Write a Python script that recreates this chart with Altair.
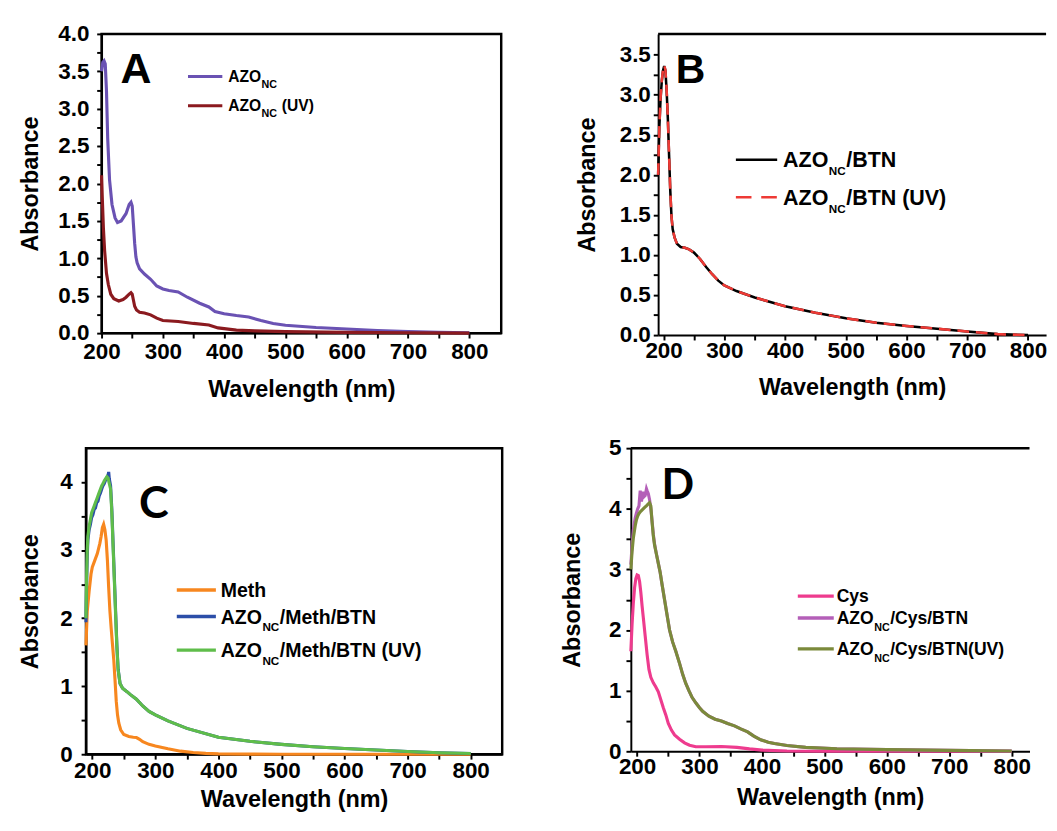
import altair as alt
import pandas as pd

FONT = "Liberation Sans"
FONT_CD = "Lato"

# ---------------- Panel A ----------------
A_WL = [200, 202, 204, 206, 208, 210, 213, 217, 222, 226, 232, 240, 245, 248, 250, 252, 254, 256, 258, 262,
        270, 280, 290, 300, 310, 325, 340, 360, 375, 385, 400, 420, 440, 460, 480, 500, 550, 600, 650, 700, 750, 800]
A_AZO = [3.50, 3.62, 3.64, 3.60, 3.24, 2.60, 2.05, 1.72, 1.54, 1.48, 1.50, 1.60, 1.72, 1.75, 1.70, 1.45, 1.20, 1.02, 0.94, 0.86,
         0.79, 0.72, 0.63, 0.59, 0.57, 0.55, 0.48, 0.40, 0.35, 0.29, 0.26, 0.235, 0.215, 0.17, 0.13, 0.105, 0.075, 0.055, 0.035, 0.02, 0.01, 0.005]
A_UV_WL = [200, 201, 203, 205, 208, 211, 215, 220, 228, 235, 240, 245, 248, 250, 252, 254, 257, 262, 270, 280,
           290, 300, 325, 350, 375, 390, 420, 450, 500, 600, 700, 800]
A_AZO_UV = [2.11, 1.85, 1.40, 1.10, 0.80, 0.65, 0.52, 0.46, 0.43, 0.45, 0.48, 0.52, 0.54, 0.52, 0.44, 0.36, 0.31, 0.28, 0.27, 0.245,
            0.20, 0.17, 0.155, 0.13, 0.11, 0.07, 0.04, 0.03, 0.02, 0.01, 0.005, 0.0]

# ---------------- Panel B ----------------
B_WL = [191, 193, 195, 197, 199, 201, 203, 205, 207, 209, 211, 213, 215, 218, 222, 228, 235, 242, 250, 260,
        270, 280, 290, 300, 320, 350, 400, 450, 500, 550, 600, 650, 700, 750, 800]
B_BTN = [2.00, 2.60, 2.95, 3.17, 3.30, 3.36, 3.30, 3.05, 2.70, 2.25, 1.80, 1.48, 1.32, 1.22, 1.14, 1.10, 1.09, 1.07, 1.03, 0.95,
         0.85, 0.76, 0.68, 0.62, 0.55, 0.47, 0.36, 0.28, 0.21, 0.155, 0.115, 0.08, 0.045, 0.012, 0.0]
B_BTN_UV = [2.00, 2.60, 2.96, 3.18, 3.31, 3.37, 3.31, 3.06, 2.70, 2.25, 1.80, 1.48, 1.32, 1.22, 1.14, 1.10, 1.09, 1.07, 1.03, 0.95,
            0.85, 0.76, 0.68, 0.62, 0.55, 0.47, 0.36, 0.28, 0.21, 0.155, 0.115, 0.08, 0.045, 0.012, 0.0]

# ---------------- Panel C ----------------
C_WL_METH = [190, 192, 195, 198, 200, 204, 208, 212, 214, 216, 218, 220, 222, 224, 226, 228, 230, 232, 234, 236,
             238, 240, 242, 245, 250, 258, 265, 270, 275, 280, 290, 300, 320, 340, 360, 380, 400, 450, 500, 600, 700, 800]
C_METH = [1.60, 2.10, 2.40, 2.65, 2.75, 2.85, 2.95, 3.10, 3.20, 3.33, 3.38, 3.30, 3.15, 2.85, 2.45, 2.10, 1.85, 1.62, 1.40, 1.10,
          0.78, 0.58, 0.46, 0.36, 0.29, 0.26, 0.25, 0.245, 0.22, 0.185, 0.145, 0.12, 0.08, 0.045, 0.025, 0.012, 0.005, 0.002, 0.0, 0.0, 0.0, 0.0]
C_WL_NC = [190, 191, 192, 193, 195, 197, 199, 201, 203, 205, 207, 209, 211, 213, 215, 217, 219, 221, 223, 225,
           226, 227, 229, 231, 233, 235, 237, 239, 241, 244, 248, 255, 260, 270, 280, 290, 300, 320, 350, 400,
           450, 500, 550, 600, 650, 700, 750, 800]
C_NC_METH_BTN = [1.94, 2.50, 2.90, 3.15, 3.30, 3.38, 3.48, 3.52, 3.60, 3.62, 3.70, 3.72, 3.80, 3.84, 3.90, 3.95, 3.98, 4.03, 4.06, 4.10,
                 4.15, 4.05, 3.95, 3.60, 3.10, 2.60, 2.10, 1.60, 1.25, 1.04, 0.97, 0.92, 0.88, 0.81, 0.71, 0.63, 0.58, 0.49, 0.38, 0.25,
                 0.19, 0.145, 0.11, 0.085, 0.062, 0.04, 0.022, 0.01]
C_NC_METH_BTN_UV = [2.00, 2.60, 3.00, 3.20, 3.35, 3.45, 3.55, 3.60, 3.65, 3.70, 3.75, 3.80, 3.85, 3.90, 3.95, 3.98, 4.02, 4.05, 4.08, 4.06,
                    4.02, 3.98, 3.90, 3.55, 3.05, 2.55, 2.05, 1.58, 1.24, 1.04, 0.97, 0.92, 0.88, 0.81, 0.71, 0.63, 0.58, 0.49, 0.38, 0.25,
                    0.19, 0.145, 0.11, 0.085, 0.062, 0.04, 0.022, 0.01]

# ---------------- Panel D ----------------
D_WL_CYS = [190, 192, 194, 196, 198, 200, 202, 204, 206, 208, 210, 213, 216, 219, 222, 226, 230, 234, 238, 242,
            246, 250, 255, 260, 268, 276, 284, 294, 310, 335, 360, 380, 400, 440, 500, 600, 700, 800]
D_CYS = [1.65, 2.10, 2.45, 2.70, 2.85, 2.91, 2.90, 2.80, 2.62, 2.40, 2.20, 1.90, 1.60, 1.35, 1.22, 1.13, 1.06, 0.98, 0.85, 0.72,
         0.60, 0.46, 0.35, 0.27, 0.20, 0.14, 0.10, 0.075, 0.075, 0.08, 0.065, 0.04, 0.02, 0.006, 0.0, 0.0, 0.0, 0.0]
D_WL_NC = [190, 192, 194, 197, 199, 201, 203, 205, 207, 209, 211, 213, 215, 216, 218, 220, 222, 224, 226, 228,
           231, 234, 237, 240, 244, 248, 252, 257, 262, 268, 273, 278, 283, 288, 294, 300, 305, 315, 325, 335,
           345, 356, 366, 377, 387, 398, 410, 420, 440, 470, 520, 600, 700, 800]
D_NC_CYS_BTN = [3.08, 3.40, 3.65, 3.85, 3.93, 4.00, 4.05, 4.30, 4.12, 4.28, 4.20, 4.22, 4.33, 4.30, 4.25, 4.15, 4.00, 3.80, 3.58, 3.42,
                3.25, 3.10, 2.95, 2.75, 2.50, 2.25, 2.00, 1.80, 1.65, 1.45, 1.27, 1.12, 1.00, 0.89, 0.80, 0.72, 0.66, 0.58, 0.53, 0.50,
                0.46, 0.42, 0.37, 0.32, 0.25, 0.19, 0.15, 0.13, 0.096, 0.064, 0.042, 0.027, 0.016, 0.005]
D_NC_CYS_BTN_UV = [3.00, 3.30, 3.52, 3.72, 3.82, 3.88, 3.92, 3.95, 3.97, 3.99, 4.01, 4.03, 4.05, 4.06, 4.08, 4.10, 4.05, 3.78, 3.55, 3.40,
                   3.25, 3.10, 2.95, 2.75, 2.50, 2.25, 2.00, 1.80, 1.65, 1.45, 1.27, 1.12, 1.00, 0.89, 0.80, 0.72, 0.66, 0.58, 0.53, 0.50,
                   0.46, 0.42, 0.37, 0.32, 0.25, 0.19, 0.15, 0.13, 0.096, 0.064, 0.042, 0.027, 0.016, 0.005]

# ---------------- ticks ----------------
X_TICKS = [200, 250, 300, 350, 400, 450, 500, 550, 600, 650, 700, 750, 800]
A_Y_TICKS = [0, 0.25, 0.5, 0.75, 1.0, 1.25, 1.5, 1.75, 2.0, 2.25, 2.5, 2.75, 3.0, 3.25, 3.5, 3.75, 4.0]
B_Y_TICKS = [0, 0.25, 0.5, 0.75, 1.0, 1.25, 1.5, 1.75, 2.0, 2.25, 2.5, 2.75, 3.0, 3.25, 3.5]
C_Y_TICKS = [0, 0.5, 1, 1.5, 2, 2.5, 3, 3.5, 4]
D_Y_TICKS = [0, 0.5, 1, 1.5, 2, 2.5, 3, 3.5, 4, 4.5, 5]

X_EXPR = "datum.value % 100 == 0 ? format(datum.value, 'd') : ''"
Y_EXPR_HALF = "abs(datum.value * 2 - round(datum.value * 2)) < 0.001 ? format(datum.value, '.1f') : ''"
Y_EXPR_INT = "abs(datum.value - round(datum.value)) < 0.001 ? format(datum.value, 'd') : ''"

# Arial/Liberation Sans Bold advance widths (em)
CHAR_W = {'A': .722, 'Z': .611, 'O': .778, 'N': .722, 'C': .722, '/': .278, 'B': .722, 'T': .611, ' ': .278,
          '(': .333, ')': .333, 'U': .722, 'V': .667, 'M': .833, 'e': .556, 't': .333, 'h': .611, 'y': .556, 's': .556}


def tw(s, fs):
    return sum(CHAR_W.get(c, 0.6) for c in s) * fs


PANELS = [
    dict(xdom=[200, 852], ydom=[0, 4.0], width=410, height=307, yticks=A_Y_TICKS, yexpr=Y_EXPR_HALF,
         ylp=8, ytp=16, xlp=3, xtp=15, frame=True,
         series=[(A_WL, A_AZO, "#6a52b3", 3.2, None), (A_UV_WL, A_AZO_UV, "#8b1a1f", 3.2, None)],
         letter=("A", 231, 3.35, 44, FONT),
         legend=dict(x0=341, x1=397, tx=406.5, fs=16, sub=11, drop=6, lw=3.2,
                     rows=[(3.43, "#6a52b3", None, [("AZO", "m"), ("NC", "s")]),
                           (3.04, "#8b1a1f", None, [("AZO", "m"), ("NC", "s"), (" (UV)", "m")])])),
    dict(xdom=[191, 829.7], ydom=[0, 3.76], width=398, height=309, yticks=B_Y_TICKS, yexpr=Y_EXPR_HALF,
         ylp=3, ytp=20, xlp=0, xtp=14, frame=False,
         series=[(B_WL, B_BTN, "#000000", 2.6, None), (B_WL, B_BTN_UV, "#ee3a35", 2.6, [12, 7])],
         letter=("B", 220, 3.15, 42, FONT),
         legend=dict(x0=319, x1=387, tx=396.7, fs=22, sub=12, drop=8, lw=2.6,
                     rows=[(2.19, "#000000", None, [("AZO", "m"), ("NC", "s"), ("/BTN", "m")]),
                           (1.72, "#ee3a35", [16, 10], [("AZO", "m"), ("NC", "s"), ("/BTN (UV)", "m")])])),
    dict(xdom=[190, 850], ydom=[0, 4.5], width=427, height=314, yticks=C_Y_TICKS, yexpr=Y_EXPR_INT,
         ylp=9, ytp=18, xlp=1, xtp=6, frame=True,
         series=[(C_WL_METH, C_METH, "#f7871f", 3.2, None), (C_WL_NC, C_NC_METH_BTN, "#2c4ea8", 3.2, None),
                 (C_WL_NC, C_NC_METH_BTN_UV, "#5fbd4a", 3.2, None)],
         letter=("C", 274, 3.48, 46, FONT_CD),
         legend=dict(x0=334, x1=396, tx=403.7, fs=20, sub=12, drop=8, lw=3.5,
                     rows=[(2.415, "#f7871f", None, [("Meth", "m")]),
                           (2.024, "#2c4ea8", None, [("AZO", "m"), ("NC", "s"), ("/Meth/BTN", "m")]),
                           (1.53, "#5fbd4a", None, [("AZO", "m"), ("NC", "s"), ("/Meth/BTN (UV)", "m")])])),
    dict(xdom=[190, 828.5], ydom=[0, 5], width=409, height=311, yticks=D_Y_TICKS, yexpr=Y_EXPR_INT,
         ylp=5, ytp=25, xlp=0, xtp=8, frame=False,
         series=[(D_WL_CYS, D_CYS, "#ee3b8e", 3.2, None), (D_WL_NC, D_NC_CYS_BTN, "#b45fb8", 3.2, None),
                 (D_WL_NC, D_NC_CYS_BTN_UV, "#7b8a3b", 3.2, None)],
         letter=("D", 239, 4.16, 44, FONT_CD),
         legend=dict(x0=457.4, x1=515, tx=519.6, fs=18, sub=11, drop=7, lw=3.5,
                     rows=[(2.56, "#ee3b8e", None, [("Cys", "m")]),
                           (2.20, "#b45fb8", None, [("AZO", "m"), ("NC", "s"), ("/Cys/BTN", "m")]),
                           (1.69, "#7b8a3b", None, [("AZO", "m"), ("NC", "s"), ("/Cys/BTN(UV)", "m")])])),
]


def build_panel(p):
    x0, x1 = p["xdom"]
    y0, y1 = p["ydom"]
    W, H = p["width"], p["height"]
    ppn = W / (x1 - x0)
    ppu = H / (y1 - y0)
    xs = alt.Scale(domain=[x0, x1], nice=False, zero=False)
    ys = alt.Scale(domain=[y0, y1], nice=False, zero=False)
    xaxis = alt.Axis(title="Wavelength (nm)", values=X_TICKS, labelExpr=X_EXPR,
                     labelPadding=p["xlp"], titlePadding=p["xtp"])
    yaxis = alt.Axis(title="Absorbance", values=p["yticks"], labelExpr=p["yexpr"],
                     labelPadding=p["ylp"], titlePadding=p["ytp"])

    def X(field):
        return alt.X(field, scale=xs, axis=xaxis)

    def Y(field):
        return alt.Y(field, scale=ys, axis=yaxis)

    layers = []
    for (wl, ab, color, sw, dash) in p["series"]:
        df = pd.DataFrame({"wl": wl, "ab": ab})
        if dash:
            m = alt.Chart(df).mark_line(color=color, strokeWidth=sw, strokeDash=dash)
        else:
            m = alt.Chart(df).mark_line(color=color, strokeWidth=sw)
        layers.append(m.encode(x=X("wl:Q"), y=Y("ab:Q")))

    # legend
    lg = p["legend"]
    for (ry, color, dash, parts) in lg["rows"]:
        rdf = pd.DataFrame({"x0": [lg["x0"]], "x1": [lg["x1"]], "y": [ry]})
        if dash:
            r = alt.Chart(rdf).mark_rule(color=color, strokeWidth=lg["lw"], strokeDash=dash)
        else:
            r = alt.Chart(rdf).mark_rule(color=color, strokeWidth=lg["lw"])
        layers.append(r.encode(x=X("x0:Q"), x2="x1:Q", y=Y("y:Q")))
        base = ry - (0.358 * lg["fs"]) / ppu
        off = 0.0
        mains, subs = [], []
        for (txt, kind) in parts:
            fs = lg["fs"] if kind == "m" else lg["sub"]
            lead = len(txt) - len(txt.lstrip(" "))
            off += tw(" " * lead, fs)
            txt = txt.lstrip(" ")
            if kind == "m":
                mains.append({"x": lg["tx"] + off / ppn, "y": base, "t": txt})
            else:
                subs.append({"x": lg["tx"] + off / ppn, "y": base - lg["drop"] / ppu, "t": txt})
            off += tw(txt, fs) + 0.5
        for rows, fs in ((mains, lg["fs"]), (subs, lg["sub"])):
            if rows:
                layers.append(alt.Chart(pd.DataFrame(rows)).mark_text(
                    align="left", baseline="alphabetic", font=FONT, fontWeight="bold",
                    fontSize=fs, color="black").encode(x=X("x:Q"), y=Y("y:Q"), text="t:N"))

    # panel letter
    L, lx, ly, lfs, lfont = p["letter"]
    ldf = pd.DataFrame({"x": [lx], "y": [ly], "t": [L]})
    layers.append(alt.Chart(ldf).mark_text(align="left", baseline="alphabetic", font=lfont, fontWeight="bold",
                                           fontSize=lfs, color="black").encode(x=X("x:Q"), y=Y("y:Q"), text="t:N"))

    if not p["frame"]:
        # top frame line only (right side of the frame is cropped off in the figure)
        layers.append(alt.Chart(ldf).mark_rule(color="black", strokeWidth=2.5).encode(
            x=alt.value(0), x2=alt.value(W), y=alt.value(0)))

    ch = alt.layer(*layers).properties(width=W, height=H)
    if not p["frame"]:
        ch = ch.properties(view=alt.ViewBackground(stroke="transparent"))
    return ch


def spacer():
    # empty 1px cell so that both rows are laid out by their outer bounds
    return alt.Chart(pd.DataFrame({"v": [0]})).mark_rule(opacity=0).encode(
        x=alt.value(0), y=alt.value(0)).properties(
        width=1, height=1, view=alt.ViewBackground(stroke="transparent"))


pA, pB, pC, pD = [build_panel(p) for p in PANELS]

COL_GAP = 56
chart = alt.concat(
    spacer(), pA, pB, spacer(), pC, pD, columns=3,
    spacing={"row": 33, "column": COL_GAP},
    align={"row": "each", "column": "none"},
).properties(
    padding={"left": 5 - COL_GAP - 1, "top": 3, "right": 0, "bottom": 0}
).configure_axis(
    labelFont=FONT, labelFontWeight="bold", labelFontSize=23, labelColor="black",
    titleFont=FONT, titleFontWeight="bold", titleFontSize=24, titleColor="black",
    domainColor="black", domainWidth=2, tickColor="black", tickWidth=2, tickSize=5,
    grid=False, labelFlush=False, labelOverlap=False,
).configure_view(stroke="black", strokeWidth=2.5)

chart.save("out.html", embed_options={"renderer": "svg", "actions": False})
